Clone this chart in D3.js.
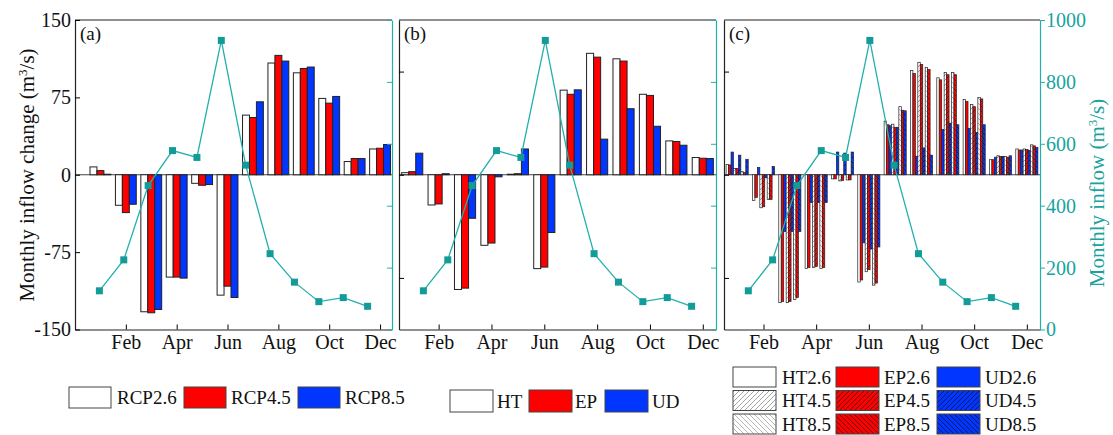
<!DOCTYPE html>
<html><head><meta charset="utf-8">
<script src="https://cdn.jsdelivr.net/npm/d3@7/dist/d3.min.js"></script>
<style>body{margin:0;background:#fff;} svg{display:block;font-family:"Liberation Serif","Times New Roman",serif;}</style>
</head><body>
<svg id="chart" width="1113" height="435"></svg>
<script>
// ---------------- data ----------------
const months = ["Jan","Feb","Mar","Apr","May","Jun","Jul","Aug","Sep","Oct","Nov","Dec"];
const monthTicks = [2,4,6,8,10,12];
const leftTicksA = [-150,-75,0,75,150];
const leftTicksBC = [-100,0,100];
const rightTicks = [0,200,400,600,800,1000];
const inflow = [125,225,465,578,556,934,531,245,153,90,103,75];
// panel (a)
const rcp26 = [7.6,-29.6,-132.8,-99.2,-8.3,-116.7,57.8,108.3,98.8,74,12.8,25];
const rcp45 = [4,-36.7,-133.8,-99.2,-10.2,-108,55.5,115.7,103,69.4,15.7,25.7];
const rcp85 = [0.5,-28.6,-130.6,-100.2,-9.5,-119,70.7,110.2,104.4,75.9,15.7,29.3];
// panel (b)
const ht = [2,-29.3,-111.2,-68.4,0.5,-91,82,117.7,112.4,78,32.8,16.7];
const ep = [3,-28.3,-109.9,-66.2,1,-89.5,78,114,110.2,76.9,32.2,16];
const ud = [20.9,1,-42.2,-2,25,-56,82.3,34.5,64,47,28.6,15.7];
// panel (c)
const ht26 = [10,-25,-124,-91,-4,-104,52,101,94,73,14.6,25];
const ep26 = [9.5,-22,-123,-90,-4,-102,48.5,98,92,71,14.6,24];
const ud26 = [22,7,-55,-27,22,-66,47.5,18,44,45,17,24];
const ht45 = [6,-32,-124,-90,-6,-94,49,109,99,68,18.4,25];
const ep45 = [6,-31,-123,-89,-5.5,-92,46,107,97,66,17.8,24.5];
const ud45 = [19,-3,-55,-27,21,-72,46,26,50,41,17.8,23.6];
const ht85 = [3,-24,-121,-91,-5,-107,66,104,99,75,17.8,29];
const ep85 = [2,-24,-119,-90,-5,-105,62.5,102,97,73.5,17,28];
const ud85 = [15,8,-55,-27,22,-70,62,19,48.5,48.5,18.4,26.5];

const legA = ["RCP2.6","RCP4.5","RCP8.5"];
const legB = ["HT","EP","UD"];
const legC = ["HT2.6","EP2.6","UD2.6","HT4.5","EP4.5","UD4.5","HT8.5","EP8.5","UD8.5"];

// ---------------- styles ----------------
const RED = "#ff0000", BLUE = "#0036ff", TEAL = "#22b0ad", TEALTXT = "#19a3a0", MARK = "#139b98";
const fills = {
  "RCP2.6":"#fff","RCP4.5":RED,"RCP8.5":BLUE,"HT":"#fff","EP":RED,"UD":BLUE,
  "HT2.6":"#fff","EP2.6":RED,"UD2.6":BLUE,
  "HT4.5":"url(#hHT45)","EP4.5":"url(#hEP45)","UD4.5":"url(#hUD45)",
  "HT8.5":"url(#hHT85)","EP8.5":"url(#hEP85)","UD8.5":"url(#hUD85)"
};
const FONT = "Liberation Serif, Times New Roman, serif";

const svg = d3.select("#chart");
const defs = svg.append("defs");
function hatch(id, bg, col, dir, sw){
  const p = defs.append("pattern").attr("id",id).attr("patternUnits","userSpaceOnUse")
    .attr("width",5).attr("height",5);
  p.append("rect").attr("width",5).attr("height",5).attr("fill",bg);
  const d = dir>0 ? "M-1,6 L6,-1 M-1,1 L1,-1 M4,6 L6,4" : "M-1,-1 L6,6 M-1,4 L1,6 M4,-1 L6,1";
  p.append("path").attr("d",d).attr("stroke",col).attr("stroke-width",sw);
}
hatch("hHT45","#fff","#8a8a8a",1,0.8);
hatch("hHT85","#fff","#a5a5a5",-1,0.8);
hatch("hEP45",RED,"#222",1,0.7);
hatch("hEP85",RED,"#222",-1,0.7);
hatch("hUD45",BLUE,"#111",1,0.7);
hatch("hUD85",BLUE,"#111",-1,0.7);

const yTop = 20, yBot = 329.5;
const yL = d3.scaleLinear().domain([-150,150]).range([yBot, yTop]);
const yR = d3.scaleLinear().domain([0,1000]).range([yBot, yTop]);

const panels = [
  {label:"(a)", left:75, right:392, xdom:[0,12.47], keys:legA, series:[rcp26,rcp45,rcp85], gw:0.82, sw:1},
  {label:"(b)", left:399, right:716, xdom:[0.5,12.5], keys:legB, series:[ht,ep,ud], gw:0.8, sw:1},
  {label:"(c)", left:724, right:1040, xdom:[0.5,12.5], keys:legC,
    series:[ht26,ep26,ud26,ht45,ep45,ud45,ht85,ep85,ud85], gw:0.84, sw:0.7}
];

panels.forEach((P, pi) => {
  const g = svg.append("g");
  const x = d3.scaleLinear().domain(P.xdom).range([P.left, P.right]);
  const xl = d3.scaleLinear().domain([0,13]).range([P.left, P.right]);
  const gw = (x(1)-x(0))*P.gw;
  const inner = d3.scaleBand().domain(P.keys).range([-gw/2, gw/2]).padding(0);
  // zero line
  g.append("line").attr("x1",P.left).attr("x2",P.right).attr("y1",yL(0)).attr("y2",yL(0))
    .attr("stroke","#444").attr("stroke-width",1);
  // bars
  P.keys.forEach((k, si) => {
    const vals = P.series[si];
    g.selectAll(null).data(vals).enter().append("rect")
      .attr("x",(v,i)=>x(i+1)+inner(k))
      .attr("width",inner.bandwidth())
      .attr("y",v=>Math.min(yL(v),yL(0)))
      .attr("height",v=>Math.abs(yL(v)-yL(0)))
      .attr("fill",fills[k]).attr("stroke","#222").attr("stroke-width",P.sw);
  });
  // inflow line
  const line = d3.line().x((d,i)=>xl(i+1)).y(d=>yR(d));
  g.append("path").datum(inflow).attr("d",line).attr("fill","none")
    .attr("stroke",TEAL).attr("stroke-width",1.3);
  g.selectAll(null).data(inflow).enter().append("rect")
    .attr("x",(d,i)=>xl(i+1)-3.5).attr("y",d=>yR(d)-3.5).attr("width",7).attr("height",7)
    .attr("fill",MARK);
  // top border
  g.append("line").attr("x1",P.left).attr("x2",P.right).attr("y1",yTop).attr("y2",yTop)
    .attr("stroke","#222").attr("stroke-width",1.2);
  // bottom axis
  const ax = g.append("g").attr("transform",`translate(0,${yBot})`)
    .call(d3.axisBottom(x).tickValues(monthTicks).tickFormat(m=>months[m-1]).tickSizeInner(-5).tickSizeOuter(0).tickPadding(5));
  ax.attr("font-family",FONT);
  ax.select(".domain").attr("stroke","#222").attr("stroke-width",1.2);
  ax.selectAll("text").attr("font-size",20).attr("fill","#111");
  // left axis
  const la = g.append("g").attr("transform",`translate(${P.left},0)`)
    .call(d3.axisLeft(yL).tickValues(pi===0?leftTicksA:leftTicksBC).tickSizeInner(-5).tickSizeOuter(0).tickPadding(4)
      .tickFormat(pi===0? (d=>String(d)) : ()=>""));
  la.attr("font-family",FONT);
  la.select(".domain").attr("stroke","#222").attr("stroke-width",1.2);
  la.selectAll("text").attr("font-size",20).attr("fill","#111");
  // right axis
  const ra = g.append("g").attr("transform",`translate(${P.right},0)`)
    .call(d3.axisRight(yR).tickValues(rightTicks).tickSizeInner(pi===2?5:-5).tickSizeOuter(0).tickPadding(pi===2?1:0)
      .tickFormat(pi===2? (d=>String(d)) : ()=>""));
  ra.attr("font-family",FONT);
  ra.select(".domain").attr("stroke",TEAL).attr("stroke-width",1.2);
  ra.selectAll("line").attr("stroke",TEAL);
  ra.selectAll("text").attr("font-size",20).attr("fill",TEALTXT);
  // panel label
  g.append("text").attr("x",P.left+5).attr("y",40).attr("font-size",19).attr("fill","#111")
    .attr("font-family",FONT).text(P.label);
});

// axis titles
svg.append("text").attr("transform","translate(34,175) rotate(-90)").attr("text-anchor","middle")
  .attr("font-size",21).attr("fill","#111").attr("font-family",FONT)
  .html('Monthly inflow change (m<tspan baseline-shift="super" font-size="13">3</tspan>/s)');
svg.append("text").attr("transform","translate(1104,193) rotate(-90)").attr("text-anchor","middle")
  .attr("font-size",21).attr("fill",TEALTXT).attr("font-family",FONT)
  .html('Monthly inflow (m<tspan baseline-shift="super" font-size="13">3</tspan>/s)');

// legends
function legendItem(xb, yb, w, h, key, xt, fs){
  svg.append("rect").attr("x",xb).attr("y",yb).attr("width",w).attr("height",h)
    .attr("fill",fills[key]).attr("stroke","#444").attr("stroke-width",1);
  svg.append("text").attr("x",xt).attr("y",yb+h/2).attr("dy","0.35em").attr("font-size",fs)
    .attr("fill","#111").attr("font-family",FONT).text(key);
}
const l1x = [69,184,298], l1t = [117,231,345];
legA.forEach((k,i)=>legendItem(l1x[i],387,42,21,k,l1t[i],19));
const l2x = [450,529,605], l2t = [497,575,652];
legB.forEach((k,i)=>legendItem(l2x[i],390,43,22,k,l2t[i],19));
const l3x = [733,836,937], l3t = [782,884,985], l3y = [367,390.5,414];
legC.forEach((k,i)=>legendItem(l3x[i%3],l3y[Math.floor(i/3)],43,20,k,l3t[i%3],19));
</script>
</body></html>
